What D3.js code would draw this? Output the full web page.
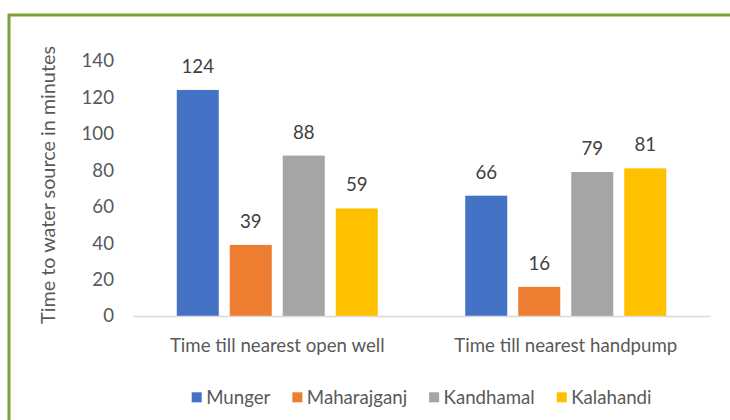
<!DOCTYPE html>
<html><head><meta charset="utf-8">
<script src="https://cdn.jsdelivr.net/npm/d3@7"></script>
<style>
body{margin:0;background:#fff;}
svg{display:block;font-family:Lato,"Open Sans",sans-serif;}
</style></head>
<body><svg id="c" width="730" height="420"></svg>
<script>
const categories = ["Time till nearest open well", "Time till nearest handpump"];
const seriesNames = ["Munger", "Maharajganj", "Kandhamal", "Kalahandi"];
const munger = [124, 66];
const maharajganj = [39, 16];
const kandhamal = [88, 79];
const kalahandi = [59, 81];
const yTicks = [0, 20, 40, 60, 80, 100, 120, 140];
const colors = ["#4472C4", "#ED7D31", "#A5A5A5", "#FFC000"];
const yTitle = "Time to water source in minutes";

const seriesValues = [munger, maharajganj, kandhamal, kalahandi];
const svg = d3.select("#c");
const FS = 18.67;

// frame border
svg.append("rect").attr("x", 9).attr("y", 15).attr("width", 800).attr("height", 500)
  .attr("fill", "none").attr("stroke", "#7f9f38").attr("stroke-width", 3);

const pLeft = 133, pRight = 710, pTop = 60.8, pBottom = 316;
const y = d3.scaleLinear().domain([0, 140]).range([pBottom, pTop]);
const x0 = d3.scaleBand().domain(categories).range([pLeft, pRight]).padding(0);
const bw = x0.bandwidth();
const gpad = bw * 0.1517;
const x1 = d3.scaleBand().domain(seriesNames).range([gpad, bw - gpad]).paddingInner(0.2075).paddingOuter(0);

// y axis labels
const yAxis = d3.axisLeft(y).tickValues(yTicks).tickSize(0).tickPadding(0);
const yg = svg.append("g").attr("transform", `translate(114,0)`).call(yAxis);
yg.select(".domain").remove();
yg.selectAll("text").attr("font-size", FS).attr("fill", "#595959").attr("font-family", "Lato, sans-serif");

// bars
categories.forEach((cat, ci) => {
  seriesNames.forEach((s, si) => {
    const v = seriesValues[si][ci];
    const bx = x0(cat) + x1(s);
    svg.append("rect").attr("x", bx).attr("y", y(v)).attr("width", x1.bandwidth())
      .attr("height", y(0) - y(v)).attr("fill", colors[si]);
    svg.append("text").attr("x", bx + x1.bandwidth() / 2).attr("y", y(v) - 17)
      .attr("text-anchor", "middle").attr("font-size", FS).attr("fill", "#404040").text(v);
  });
});

// x axis
const xAxis = d3.axisBottom(x0).tickSize(0).tickPadding(0);
const xg = svg.append("g").attr("transform", `translate(0,${pBottom})`).call(xAxis);
xg.select(".domain").attr("stroke", "#d9d9d9").attr("stroke-width", 1.5);
xg.selectAll("text").attr("dy", null).attr("y", 35.5).attr("font-size", FS).attr("fill", "#595959").attr("font-family", "Lato, sans-serif");

// y title
svg.append("text").attr("transform", `translate(55,185) rotate(-90)`)
  .attr("text-anchor", "middle").attr("font-size", 19.8).attr("fill", "#595959").text(yTitle);

// legend (sequential layout)
const lg = svg.append("g");
let lx = 191.7;
seriesNames.forEach((s, i) => {
  lg.append("rect").attr("x", lx).attr("y", 392.3).attr("width", 10).attr("height", 10).attr("fill", colors[i]);
  const t = lg.append("text").attr("x", lx + 14.5).attr("y", 404).attr("font-size", FS).attr("fill", "#595959").text(s);
  lx += 14.5 + t.node().getComputedTextLength() + 22;
});
</script></body></html>
